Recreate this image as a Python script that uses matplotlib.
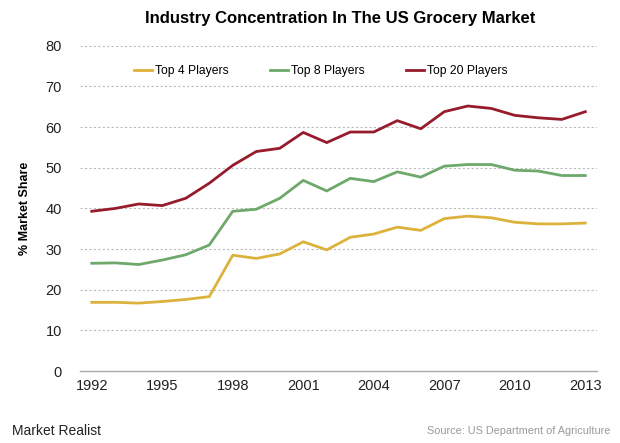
import matplotlib
matplotlib.use("Agg")
import matplotlib.pyplot as plt

plt.rcParams["font.family"] = ["Liberation Sans", "DejaVu Sans"]

years = list(range(1992, 2014))
top4 = [16.9, 16.9, 16.7, 17.1, 17.6, 18.3, 28.5, 27.7, 28.8, 31.8, 29.8,
        32.9, 33.7, 35.4, 34.6, 37.5, 38.1, 37.7, 36.6, 36.2, 36.2, 36.4]
top8 = [26.5, 26.6, 26.2, 27.3, 28.6, 31.0, 39.3, 39.8, 42.5, 46.9, 44.3,
        47.4, 46.6, 49.0, 47.7, 50.4, 50.8, 50.8, 49.4, 49.2, 48.1, 48.1]
top20 = [39.3, 40.0, 41.1, 40.7, 42.5, 46.2, 50.6, 54.0, 54.8, 58.7, 56.2,
         58.8, 58.8, 61.6, 59.6, 63.8, 65.2, 64.6, 62.9, 62.3, 61.9, 63.8]
xticks = [1992, 1995, 1998, 2001, 2004, 2007, 2010, 2013]
yticks = [0, 10, 20, 30, 40, 50, 60, 70, 80]

fig = plt.figure(figsize=(6.2, 4.43), dpi=100)
ax = fig.add_axes([0.129, 0.1625, 0.834, 0.734])

ax.plot(years, top4, color="#DDB23C", lw=2, label="Top 4 Players", solid_joinstyle="round")
ax.plot(years, top8, color="#6EA86B", lw=2, label="Top 8 Players", solid_joinstyle="round")
ax.plot(years, top20, color="#961B2B", lw=2, label="Top 20 Players", solid_joinstyle="round")

ax.set_xlim(1991.5, 2013.5)
ax.set_ylim(0, 80)
ax.set_xticks(xticks)
ax.set_yticks(yticks)
ax.tick_params(length=0, labelsize=10.5, colors="#222222")
ax.tick_params(axis="x", pad=6)
ax.tick_params(axis="y", pad=13)

for y in yticks[1:]:
    ax.axhline(y, color="#BBBBBB", lw=0.8, ls=(0, (2, 2)), zorder=0)
for s in ["top", "right", "left"]:
    ax.spines[s].set_visible(False)
ax.spines["bottom"].set_color("#AAAAAA")
ax.spines["bottom"].set_linewidth(1)

ax.set_ylabel("% Market Share", fontsize=9, fontweight="bold")
ax.yaxis.set_label_coords(-0.095, 0.5)

ax.legend(loc="upper center", bbox_to_anchor=(0.465, 0.975), ncol=3, frameon=False,
          fontsize=8.7, handlelength=1.5, handletextpad=0.25, columnspacing=3.4)

fig.text(0.548, 0.958, "Industry Concentration In The US Grocery Market",
         ha="center", va="center", fontsize=12, fontweight="bold")
fig.text(0.02, 0.028, "Market Realist", fontsize=10, ha="left", va="center", color="#222222")
fig.text(0.985, 0.028, "Source: US Department of Agriculture", fontsize=7.8,
         ha="right", va="center", color="#999999")

fig.savefig("out.png", dpi=100)
